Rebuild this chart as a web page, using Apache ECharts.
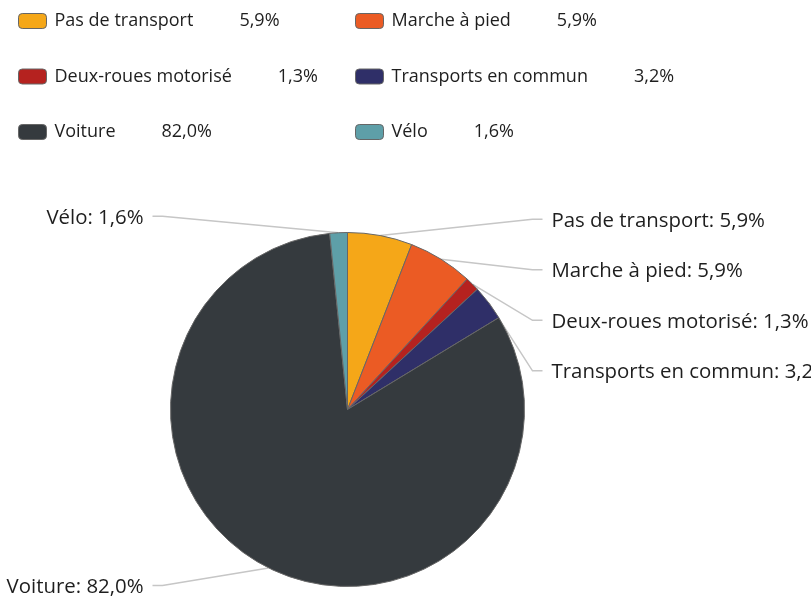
<!DOCTYPE html>
<html>
<head>
<meta charset="utf-8">
<style>
html, body {
  margin: 0;
  padding: 0;
  width: 811px;
  height: 596px;
  overflow: hidden;
  background: #fff;
}
#chart {
  position: absolute;
  left: 0;
  top: 0;
  width: 1100px;
  height: 700px;
}
</style>
<script src="https://cdn.jsdelivr.net/npm/echarts@6/dist/echarts.min.js"></script>
</head>
<body>
<div id="chart"></div>
<script>
// données
var categories = ['Pas de transport', 'Marche à pied', 'Deux-roues motorisé', 'Transports en commun', 'Voiture', 'Vélo']
var values = [5.9, 5.9, 1.3, 3.2, 82.0, 1.6]
var colors = ['#F5A718', '#EB5B24', '#B5221F', '#2F2F68', '#353A3E', '#5E9FA8']
var legendLeft = ['Pas de transport', 'Deux-roues motorisé', 'Voiture']
var legendRight = ['Marche à pied', 'Transports en commun', 'Vélo']

var CX = 347.5
var CY = 409.5
var R = 177
var FONT = '"Open Sans", sans-serif'

function fmt (v) {
  return v.toFixed(1).replace('.', ',') + '%'
}

function valueOf (name) {
  return values[categories.indexOf(name)]
}

function makeLegend (data, left) {
  return {
    orient: 'vertical',
    left: left,
    top: 10,
    padding: 0,
    itemGap: 33.5,
    itemWidth: 28,
    itemHeight: 15,
    icon: 'roundRect',
    selectedMode: false,
    data: data,
    itemStyle: { borderColor: '#666', borderWidth: 1 },
    formatter: function (name) {
      return '{n|' + name + '}{v|' + fmt(valueOf(name)) + '}'
    },
    textStyle: {
      fontFamily: FONT,
      fontSize: 18,
      color: '#1e1e1e',
      lineHeight: 22,
      rich: {
        n: { fontFamily: FONT, fontSize: 18, color: '#1e1e1e', padding: [0, 0, 0, 3] },
        v: { fontFamily: FONT, fontSize: 18, color: '#1e1e1e', padding: [0, 0, 0, 46] }
      }
    }
  }
}

var chart = echarts.init(document.getElementById('chart'))

var option = {
  animation: false,
  legend: [makeLegend(legendLeft, 18), makeLegend(legendRight, 355)],
  series: [{
    type: 'pie',
    center: [CX, CY],
    radius: R,
    startAngle: 90,
    clockwise: true,
    avoidLabelOverlap: true,
    itemStyle: { borderColor: '#666', borderWidth: 1 },
    label: {
      fontFamily: FONT,
      fontSize: 20.4,
      color: '#1e1e1e',
      lineHeight: 48.5,
      overflow: 'none',
      formatter: function (p) {
        return p.name + ': ' + fmt(p.value)
      }
    },
    labelLine: {
      length: 18,
      length2: 10,
      lineStyle: { color: '#c6c6c6', width: 1.5 }
    },
    labelLayout: function (p) {
      var pts = p.labelLinePoints
      if (!pts) return {}
      var right = pts[0][0] >= CX
      var y = p.labelRect.y + p.labelRect.height / 2
      var x = right ? CX + R + 27 : CX - R - 27
      var x2 = right ? x - 9 : x + 9
      var x1 = right ? x2 - 10 : x2 + 10
      return {
        x: x,
        y: y + 3,
        align: right ? 'left' : 'right',
        verticalAlign: 'middle',
        labelLinePoints: [pts[0], [x1, y + 1.5], [x2, y + 1.5]]
      }
    },
    data: categories.map(function (name, i) {
      return { name: name, value: values[i], itemStyle: { color: colors[i] } }
    })
  }]
}

chart.setOption(option)
</script>
</body>
</html>
